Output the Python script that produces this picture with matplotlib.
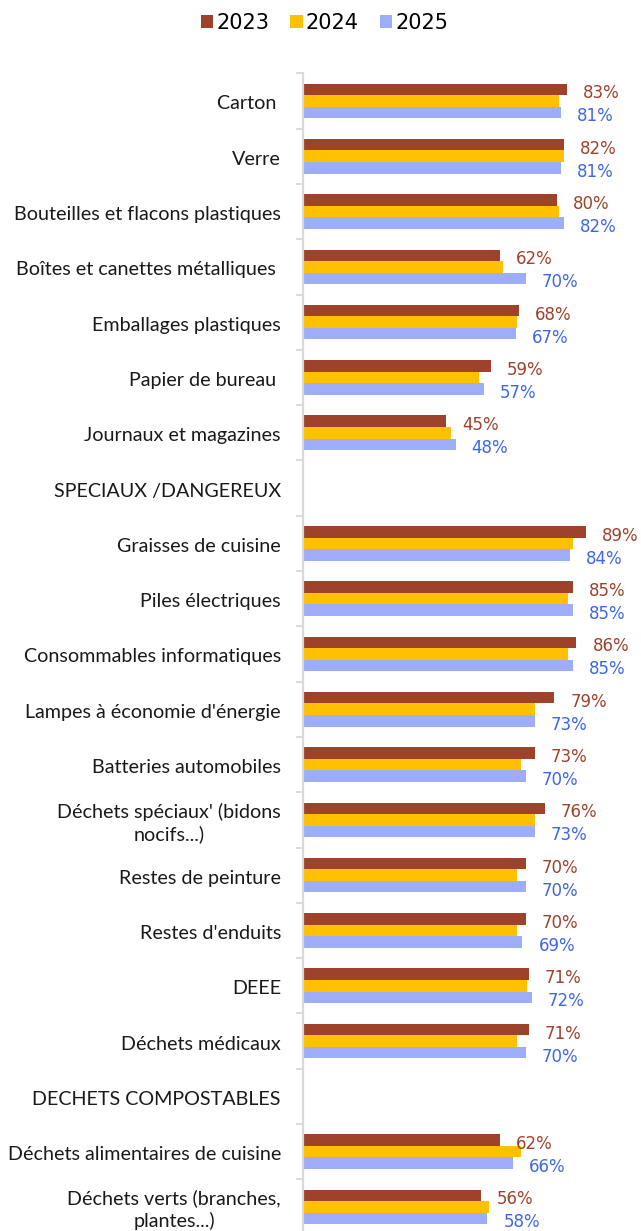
import numpy as np
import matplotlib
matplotlib.use("Agg")
import matplotlib.pyplot as plt
from matplotlib.patches import Patch

# ------------------------------------------------------------
# DONNÉES
# ------------------------------------------------------------

CATEGORIES = [
    "Carton ",
    "Verre",
    "Bouteilles et flacons plastiques",
    "Boîtes et canettes métalliques ",
    "Emballages plastiques",
    "Papier de bureau ",
    "Journaux et magazines",
    "SPECIAUX /DANGEREUX",
    "Graisses de cuisine",
    "Piles électriques",
    "Consommables informatiques",
    "Lampes à économie d'énergie",
    "Batteries automobiles",
    "Déchets spéciaux' (bidons\nnocifs...)",
    "Restes de peinture",
    "Restes d'enduits",
    "DEEE",
    "Déchets médicaux",
    "DECHETS COMPOSTABLES",
    "Déchets alimentaires de cuisine",
    "Déchets verts (branches,\nplantes...)",
]

nan = np.nan
V2023 = [83, 82, 80, 62, 68, 59, 45, nan, 89, 85, 86, 79, 73, 76, 70, 70, 71, 71, nan, 62, 56]
V2024 = [80.5, 82, 80.6, 62.9, 67.2, 55.4, 46.6, nan, 85, 83.3, 83.3, 73.1, 68.7, 73.1,
         67.2, 67.2, 70.3, 67.2, nan, 68.7, 58.5]
V2025 = [81, 81, 82, 70, 67, 57, 48, nan, 84, 85, 85, 73, 70, 73, 70, 69, 72, 70, nan, 66, 58]

YEARS = ["2023", "2024", "2025"]

# ------------------------------------------------------------
# STYLE
# ------------------------------------------------------------

C23 = "#9E422C"
C24 = "#FFC000"
C25 = "#9DADF7"
TXT25 = "#3F66E6"
AXIS_C = "#D9D9D9"
LABEL_FONT = "Lato"

fig = plt.figure(figsize=(6.41, 12.31), dpi=100, facecolor="white")
ax = fig.add_axes([303 / 641, 1 - 1234.6 / 1231, 338 / 641, (1234.6 - 73.3) / 1231])

y = np.arange(len(CATEGORIES))
h = 0.208

series = [(V2023, C23, -h), (V2024, C24, 0.0), (V2025, C25, h)]
for vals, col, off in series:
    ax.barh(y + off, vals, height=h, color=col, edgecolor="none")

# étiquettes de valeurs (2023 et 2025 seulement)
for vals, col, off in [(V2023, C23, -h), (V2025, TXT25, h)]:
    for yi, v in zip(y, vals):
        if np.isnan(v):
            continue
        ax.annotate(f"{v:.0f}%", xy=(v, yi + off), xytext=(16, -4),
                    textcoords="offset pixels", va="center", ha="left",
                    fontsize=12, color=col, family="DejaVu Sans")

ax.set_xlim(0, 106.3)
ax.set_ylim(len(CATEGORIES) - 0.5, -0.5)

# axes
for s in ["top", "right", "bottom"]:
    ax.spines[s].set_visible(False)
ax.spines["left"].set_color(AXIS_C)
ax.spines["left"].set_linewidth(1.6)
ax.set_xticks([])

ax.set_yticks(np.arange(-0.5, len(CATEGORIES) + 0.5, 1.0))
ax.set_yticklabels([])
ax.tick_params(axis="y", which="major", length=5, width=1.4, color=AXIS_C)

# libellés des catégories (centrés ligne par ligne, alignés à droite)
for yi, cat in zip(y, CATEGORIES):
    ax.annotate(cat, xy=(0, yi), xycoords=ax.get_yaxis_transform(),
                xytext=(-22, -3), textcoords="offset pixels",
                ha="right", va="center", multialignment="center",
                fontsize=14.2, family=LABEL_FONT, color="#1a1a1a",
                linespacing=1.3, annotation_clip=False)

# légende
handles = [Patch(facecolor=c, edgecolor="none") for c in [C23, C24, C25]]
fig.legend(handles, YEARS, loc="center", bbox_to_anchor=(324.5 / 641, 1 - 23 / 1231),
           ncol=3, frameon=False, handlelength=0.6, handleheight=0.6,
           handletextpad=0.15, columnspacing=1.0, prop={"family": "DejaVu Sans", "size": 15})

plt.savefig("out.png", dpi=100, facecolor="white")
